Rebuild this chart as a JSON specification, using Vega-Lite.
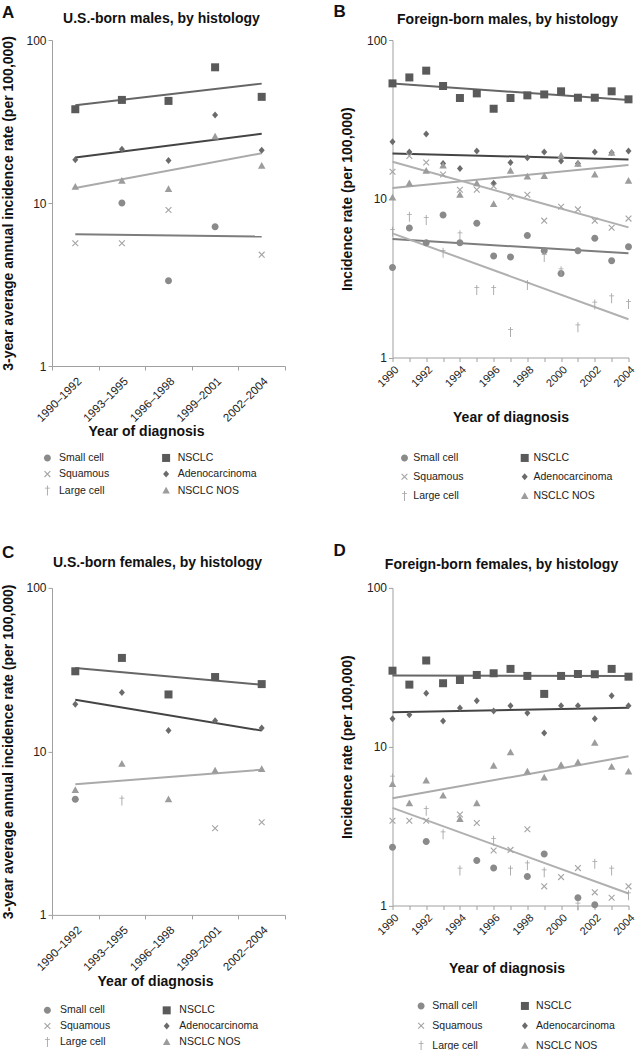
{
  "$schema": "https://vega.github.io/schema/vega-lite/v6.json",
  "padding": {"left": 1, "top": 3, "right": 1, "bottom": 0},
  "background": "white",
  "config": {
    "font": "Liberation Sans",
    "view": {"stroke": null},
    "title": {"font": "Liberation Sans", "fontSize": 14, "fontWeight": "bold", "color": "#111"},
    "axis": {"labelFont": "Liberation Sans", "titleFont": "Liberation Sans", "domainColor": "#a0a0a0", "tickColor": "#a0a0a0", "labelColor": "#222", "titleColor": "#111", "grid": false, "tickSize": 4, "titleFontSize": 14, "titleFontWeight": "bold"},
    "legend": {"labelFont": "Liberation Sans", "labelFontSize": 10.5, "labelColor": "#222", "title": null, "orient": "none", "columns": 2}
  },
  "datasets": {
    "points": [
      {"panel":"A","histology":"NSCLC","period":"1990–1992","rate":37.6},
      {"panel":"A","histology":"NSCLC","period":"1993–1995","rate":42.9},
      {"panel":"A","histology":"NSCLC","period":"1996–1998","rate":42.3},
      {"panel":"A","histology":"NSCLC","period":"1999–2001","rate":68},
      {"panel":"A","histology":"NSCLC","period":"2002–2004","rate":44.8},
      {"panel":"A","histology":"Adenocarcinoma","period":"1990–1992","rate":18.4},
      {"panel":"A","histology":"Adenocarcinoma","period":"1993–1995","rate":21.4},
      {"panel":"A","histology":"Adenocarcinoma","period":"1996–1998","rate":18.2},
      {"panel":"A","histology":"Adenocarcinoma","period":"1999–2001","rate":34.7},
      {"panel":"A","histology":"Adenocarcinoma","period":"2002–2004","rate":21.1},
      {"panel":"A","histology":"NSCLC NOS","period":"1990–1992","rate":12.6},
      {"panel":"A","histology":"NSCLC NOS","period":"1993–1995","rate":13.7},
      {"panel":"A","histology":"NSCLC NOS","period":"1996–1998","rate":12.2},
      {"panel":"A","histology":"NSCLC NOS","period":"1999–2001","rate":25.6},
      {"panel":"A","histology":"NSCLC NOS","period":"2002–2004","rate":16.9},
      {"panel":"A","histology":"Small cell","period":"1993–1995","rate":10.0},
      {"panel":"A","histology":"Small cell","period":"1996–1998","rate":3.34},
      {"panel":"A","histology":"Small cell","period":"1999–2001","rate":7.16},
      {"panel":"A","histology":"Squamous","period":"1990–1992","rate":5.66},
      {"panel":"A","histology":"Squamous","period":"1993–1995","rate":5.66},
      {"panel":"A","histology":"Squamous","period":"1996–1998","rate":9.06},
      {"panel":"A","histology":"Squamous","period":"2002–2004","rate":4.82},

      {"panel":"C","histology":"NSCLC","period":"1990–1992","rate":30.9},
      {"panel":"C","histology":"NSCLC","period":"1993–1995","rate":37.3},
      {"panel":"C","histology":"NSCLC","period":"1996–1998","rate":22.3},
      {"panel":"C","histology":"NSCLC","period":"1999–2001","rate":28.5},
      {"panel":"C","histology":"NSCLC","period":"2002–2004","rate":25.8},
      {"panel":"C","histology":"Adenocarcinoma","period":"1990–1992","rate":19.4},
      {"panel":"C","histology":"Adenocarcinoma","period":"1993–1995","rate":22.9},
      {"panel":"C","histology":"Adenocarcinoma","period":"1996–1998","rate":13.4},
      {"panel":"C","histology":"Adenocarcinoma","period":"1999–2001","rate":15.4},
      {"panel":"C","histology":"Adenocarcinoma","period":"2002–2004","rate":13.9},
      {"panel":"C","histology":"NSCLC NOS","period":"1990–1992","rate":5.8},
      {"panel":"C","histology":"NSCLC NOS","period":"1993–1995","rate":8.4},
      {"panel":"C","histology":"NSCLC NOS","period":"1996–1998","rate":5.1},
      {"panel":"C","histology":"NSCLC NOS","period":"1999–2001","rate":7.65},
      {"panel":"C","histology":"NSCLC NOS","period":"2002–2004","rate":7.8},
      {"panel":"C","histology":"Small cell","period":"1990–1992","rate":5.1},
      {"panel":"C","histology":"Large cell","period":"1993–1995","rate":5.0},
      {"panel":"C","histology":"Squamous","period":"1999–2001","rate":3.39},
      {"panel":"C","histology":"Squamous","period":"2002–2004","rate":3.69},

      {"panel":"B","histology":"NSCLC","year":1990,"rate":53.3},
      {"panel":"B","histology":"NSCLC","year":1991,"rate":58.1},
      {"panel":"B","histology":"NSCLC","year":1992,"rate":64.1},
      {"panel":"B","histology":"NSCLC","year":1993,"rate":51.3},
      {"panel":"B","histology":"NSCLC","year":1994,"rate":43.1},
      {"panel":"B","histology":"NSCLC","year":1995,"rate":46.1},
      {"panel":"B","histology":"NSCLC","year":1996,"rate":36.9},
      {"panel":"B","histology":"NSCLC","year":1997,"rate":43.1},
      {"panel":"B","histology":"NSCLC","year":1998,"rate":44.8},
      {"panel":"B","histology":"NSCLC","year":1999,"rate":45.4},
      {"panel":"B","histology":"NSCLC","year":2000,"rate":47.5},
      {"panel":"B","histology":"NSCLC","year":2001,"rate":43.3},
      {"panel":"B","histology":"NSCLC","year":2002,"rate":43.3},
      {"panel":"B","histology":"NSCLC","year":2003,"rate":47.5},
      {"panel":"B","histology":"NSCLC","year":2004,"rate":42.3},
      {"panel":"B","histology":"Adenocarcinoma","year":1990,"rate":22.9},
      {"panel":"B","histology":"Adenocarcinoma","year":1991,"rate":19.7},
      {"panel":"B","histology":"Adenocarcinoma","year":1992,"rate":25.6},
      {"panel":"B","histology":"Adenocarcinoma","year":1993,"rate":16.7},
      {"panel":"B","histology":"Adenocarcinoma","year":1994,"rate":15.5},
      {"panel":"B","histology":"Adenocarcinoma","year":1995,"rate":20.0},
      {"panel":"B","histology":"Adenocarcinoma","year":1996,"rate":12.5},
      {"panel":"B","histology":"Adenocarcinoma","year":1997,"rate":16.9},
      {"panel":"B","histology":"Adenocarcinoma","year":1998,"rate":18.1},
      {"panel":"B","histology":"Adenocarcinoma","year":1999,"rate":19.7},
      {"panel":"B","histology":"Adenocarcinoma","year":2000,"rate":17.3},
      {"panel":"B","histology":"Adenocarcinoma","year":2001,"rate":16.7},
      {"panel":"B","histology":"Adenocarcinoma","year":2002,"rate":19.7},
      {"panel":"B","histology":"Adenocarcinoma","year":2003,"rate":19.5},
      {"panel":"B","histology":"Adenocarcinoma","year":2004,"rate":20.0},
      {"panel":"B","histology":"NSCLC NOS","year":1990,"rate":10.2},
      {"panel":"B","histology":"NSCLC NOS","year":1991,"rate":12.5},
      {"panel":"B","histology":"NSCLC NOS","year":1992,"rate":15.0},
      {"panel":"B","histology":"NSCLC NOS","year":1993,"rate":16.2},
      {"panel":"B","histology":"NSCLC NOS","year":1994,"rate":10.6},
      {"panel":"B","histology":"NSCLC NOS","year":1995,"rate":12.5},
      {"panel":"B","histology":"NSCLC NOS","year":1996,"rate":9.27},
      {"panel":"B","histology":"NSCLC NOS","year":1997,"rate":15.0},
      {"panel":"B","histology":"NSCLC NOS","year":1998,"rate":13.8},
      {"panel":"B","histology":"NSCLC NOS","year":1999,"rate":13.9},
      {"panel":"B","histology":"NSCLC NOS","year":2000,"rate":18.7},
      {"panel":"B","histology":"NSCLC NOS","year":2001,"rate":16.6},
      {"panel":"B","histology":"NSCLC NOS","year":2002,"rate":14.2},
      {"panel":"B","histology":"NSCLC NOS","year":2003,"rate":19.5},
      {"panel":"B","histology":"NSCLC NOS","year":2004,"rate":13.0},
      {"panel":"B","histology":"Squamous","year":1990,"rate":14.8},
      {"panel":"B","histology":"Squamous","year":1991,"rate":18.6},
      {"panel":"B","histology":"Squamous","year":1992,"rate":16.9},
      {"panel":"B","histology":"Squamous","year":1993,"rate":14.2},
      {"panel":"B","histology":"Squamous","year":1994,"rate":11.4},
      {"panel":"B","histology":"Squamous","year":1995,"rate":11.4},
      {"panel":"B","histology":"Squamous","year":1996,"rate":12.0},
      {"panel":"B","histology":"Squamous","year":1997,"rate":10.3},
      {"panel":"B","histology":"Squamous","year":1998,"rate":10.6},
      {"panel":"B","histology":"Squamous","year":1999,"rate":7.28},
      {"panel":"B","histology":"Squamous","year":2000,"rate":8.9},
      {"panel":"B","histology":"Squamous","year":2001,"rate":8.57},
      {"panel":"B","histology":"Squamous","year":2002,"rate":7.28},
      {"panel":"B","histology":"Squamous","year":2003,"rate":6.57},
      {"panel":"B","histology":"Squamous","year":2004,"rate":7.5},
      {"panel":"B","histology":"Small cell","year":1990,"rate":3.69},
      {"panel":"B","histology":"Small cell","year":1991,"rate":6.54},
      {"panel":"B","histology":"Small cell","year":1992,"rate":5.28},
      {"panel":"B","histology":"Small cell","year":1993,"rate":7.9},
      {"panel":"B","histology":"Small cell","year":1994,"rate":5.28},
      {"panel":"B","histology":"Small cell","year":1995,"rate":7.0},
      {"panel":"B","histology":"Small cell","year":1996,"rate":4.36},
      {"panel":"B","histology":"Small cell","year":1997,"rate":4.3},
      {"panel":"B","histology":"Small cell","year":1998,"rate":5.86},
      {"panel":"B","histology":"Small cell","year":1999,"rate":4.7},
      {"panel":"B","histology":"Small cell","year":2000,"rate":3.38},
      {"panel":"B","histology":"Small cell","year":2001,"rate":4.7},
      {"panel":"B","histology":"Small cell","year":2002,"rate":5.64},
      {"panel":"B","histology":"Small cell","year":2003,"rate":4.07},
      {"panel":"B","histology":"Small cell","year":2004,"rate":4.99},
      {"panel":"B","histology":"Large cell","year":1990,"rate":6.2},
      {"panel":"B","histology":"Large cell","year":1991,"rate":7.7},
      {"panel":"B","histology":"Large cell","year":1992,"rate":7.35},
      {"panel":"B","histology":"Large cell","year":1993,"rate":4.57},
      {"panel":"B","histology":"Large cell","year":1994,"rate":5.9},
      {"panel":"B","histology":"Large cell","year":1995,"rate":2.66},
      {"panel":"B","histology":"Large cell","year":1996,"rate":2.66},
      {"panel":"B","histology":"Large cell","year":1997,"rate":1.45},
      {"panel":"B","histology":"Large cell","year":1998,"rate":2.86},
      {"panel":"B","histology":"Large cell","year":1999,"rate":4.3},
      {"panel":"B","histology":"Large cell","year":2000,"rate":3.5},
      {"panel":"B","histology":"Large cell","year":2001,"rate":1.55},
      {"panel":"B","histology":"Large cell","year":2002,"rate":2.16},
      {"panel":"B","histology":"Large cell","year":2003,"rate":2.36},
      {"panel":"B","histology":"Large cell","year":2004,"rate":2.17},

      {"panel":"D","histology":"NSCLC","year":1990,"rate":30.1},
      {"panel":"D","histology":"NSCLC","year":1991,"rate":24.6},
      {"panel":"D","histology":"NSCLC","year":1992,"rate":34.9},
      {"panel":"D","histology":"NSCLC","year":1993,"rate":25.1},
      {"panel":"D","histology":"NSCLC","year":1994,"rate":26.3},
      {"panel":"D","histology":"NSCLC","year":1995,"rate":28.3},
      {"panel":"D","histology":"NSCLC","year":1996,"rate":29.0},
      {"panel":"D","histology":"NSCLC","year":1997,"rate":30.9},
      {"panel":"D","histology":"NSCLC","year":1998,"rate":27.9},
      {"panel":"D","histology":"NSCLC","year":1999,"rate":21.5},
      {"panel":"D","histology":"NSCLC","year":2000,"rate":27.9},
      {"panel":"D","histology":"NSCLC","year":2001,"rate":28.7},
      {"panel":"D","histology":"NSCLC","year":2002,"rate":28.6},
      {"panel":"D","histology":"NSCLC","year":2003,"rate":30.9},
      {"panel":"D","histology":"NSCLC","year":2004,"rate":27.6},
      {"panel":"D","histology":"Adenocarcinoma","year":1990,"rate":15.0},
      {"panel":"D","histology":"Adenocarcinoma","year":1991,"rate":15.9},
      {"panel":"D","histology":"Adenocarcinoma","year":1992,"rate":21.7},
      {"panel":"D","histology":"Adenocarcinoma","year":1993,"rate":14.5},
      {"panel":"D","histology":"Adenocarcinoma","year":1994,"rate":17.5},
      {"panel":"D","histology":"Adenocarcinoma","year":1995,"rate":19.5},
      {"panel":"D","histology":"Adenocarcinoma","year":1996,"rate":16.8},
      {"panel":"D","histology":"Adenocarcinoma","year":1997,"rate":18.1},
      {"panel":"D","histology":"Adenocarcinoma","year":1998,"rate":16.3},
      {"panel":"D","histology":"Adenocarcinoma","year":1999,"rate":12.2},
      {"panel":"D","histology":"Adenocarcinoma","year":2000,"rate":18.1},
      {"panel":"D","histology":"Adenocarcinoma","year":2001,"rate":18.1},
      {"panel":"D","histology":"Adenocarcinoma","year":2002,"rate":15.0},
      {"panel":"D","histology":"Adenocarcinoma","year":2003,"rate":20.9},
      {"panel":"D","histology":"Adenocarcinoma","year":2004,"rate":18.1},
      {"panel":"D","histology":"NSCLC NOS","year":1990,"rate":5.83},
      {"panel":"D","histology":"NSCLC NOS","year":1991,"rate":4.41},
      {"panel":"D","histology":"NSCLC NOS","year":1992,"rate":6.12},
      {"panel":"D","histology":"NSCLC NOS","year":1993,"rate":4.92},
      {"panel":"D","histology":"NSCLC NOS","year":1994,"rate":3.51},
      {"panel":"D","histology":"NSCLC NOS","year":1995,"rate":4.41},
      {"panel":"D","histology":"NSCLC NOS","year":1996,"rate":7.6},
      {"panel":"D","histology":"NSCLC NOS","year":1997,"rate":9.23},
      {"panel":"D","histology":"NSCLC NOS","year":1998,"rate":6.97},
      {"panel":"D","histology":"NSCLC NOS","year":1999,"rate":6.39},
      {"panel":"D","histology":"NSCLC NOS","year":2000,"rate":7.68},
      {"panel":"D","histology":"NSCLC NOS","year":2001,"rate":7.98},
      {"panel":"D","histology":"NSCLC NOS","year":2002,"rate":10.6},
      {"panel":"D","histology":"NSCLC NOS","year":2003,"rate":7.49},
      {"panel":"D","histology":"NSCLC NOS","year":2004,"rate":6.97},
      {"panel":"D","histology":"Squamous","year":1990,"rate":3.42},
      {"panel":"D","histology":"Squamous","year":1991,"rate":3.42},
      {"panel":"D","histology":"Squamous","year":1992,"rate":3.42},
      {"panel":"D","histology":"Squamous","year":1994,"rate":3.74},
      {"panel":"D","histology":"Squamous","year":1995,"rate":3.31},
      {"panel":"D","histology":"Squamous","year":1996,"rate":2.22},
      {"panel":"D","histology":"Squamous","year":1997,"rate":2.24},
      {"panel":"D","histology":"Squamous","year":1998,"rate":3.02},
      {"panel":"D","histology":"Squamous","year":1999,"rate":1.32},
      {"panel":"D","histology":"Squamous","year":2000,"rate":1.51},
      {"panel":"D","histology":"Squamous","year":2001,"rate":1.72},
      {"panel":"D","histology":"Squamous","year":2002,"rate":1.21},
      {"panel":"D","histology":"Squamous","year":2003,"rate":1.12},
      {"panel":"D","histology":"Squamous","year":2004,"rate":1.32},
      {"panel":"D","histology":"Small cell","year":1990,"rate":2.33},
      {"panel":"D","histology":"Small cell","year":1992,"rate":2.53},
      {"panel":"D","histology":"Small cell","year":1995,"rate":1.92},
      {"panel":"D","histology":"Small cell","year":1996,"rate":1.72},
      {"panel":"D","histology":"Small cell","year":1998,"rate":1.52},
      {"panel":"D","histology":"Small cell","year":1999,"rate":2.11},
      {"panel":"D","histology":"Small cell","year":2001,"rate":1.12},
      {"panel":"D","histology":"Small cell","year":2002,"rate":1.01},
      {"panel":"D","histology":"Large cell","year":1990,"rate":6.3},
      {"panel":"D","histology":"Large cell","year":1992,"rate":3.95},
      {"panel":"D","histology":"Large cell","year":1993,"rate":2.81},
      {"panel":"D","histology":"Large cell","year":1994,"rate":1.66},
      {"panel":"D","histology":"Large cell","year":1996,"rate":2.56},
      {"panel":"D","histology":"Large cell","year":1997,"rate":1.66},
      {"panel":"D","histology":"Large cell","year":1998,"rate":1.79},
      {"panel":"D","histology":"Large cell","year":1999,"rate":1.62},
      {"panel":"D","histology":"Large cell","year":2001,"rate":1.0},
      {"panel":"D","histology":"Large cell","year":2002,"rate":1.83},
      {"panel":"D","histology":"Large cell","year":2003,"rate":1.66},
      {"panel":"D","histology":"Large cell","year":2004,"rate":1.16}
    ],
    "trends": [
      {"panel":"A","histology":"NSCLC","period":"1990–1992","rate":39.8},
      {"panel":"A","histology":"NSCLC","period":"2002–2004","rate":54.0},
      {"panel":"A","histology":"Adenocarcinoma","period":"1990–1992","rate":19.0},
      {"panel":"A","histology":"Adenocarcinoma","period":"2002–2004","rate":26.6},
      {"panel":"A","histology":"NSCLC NOS","period":"1990–1992","rate":12.35},
      {"panel":"A","histology":"NSCLC NOS","period":"2002–2004","rate":20.2},
      {"panel":"A","histology":"Small cell","period":"1990–1992","rate":6.43},
      {"panel":"A","histology":"Small cell","period":"2002–2004","rate":6.22},
      {"panel":"C","histology":"NSCLC","period":"1990–1992","rate":32.4},
      {"panel":"C","histology":"NSCLC","period":"2002–2004","rate":25.6},
      {"panel":"C","histology":"Adenocarcinoma","period":"1990–1992","rate":20.7},
      {"panel":"C","histology":"Adenocarcinoma","period":"2002–2004","rate":13.4},
      {"panel":"C","histology":"NSCLC NOS","period":"1990–1992","rate":6.3},
      {"panel":"C","histology":"NSCLC NOS","period":"2002–2004","rate":7.72},
      {"panel":"B","histology":"NSCLC","year":1990,"rate":53.3},
      {"panel":"B","histology":"NSCLC","year":2004,"rate":41.9},
      {"panel":"B","histology":"Adenocarcinoma","year":1990,"rate":19.3},
      {"panel":"B","histology":"Adenocarcinoma","year":2004,"rate":17.7},
      {"panel":"B","histology":"NSCLC NOS","year":1990,"rate":11.7},
      {"panel":"B","histology":"NSCLC NOS","year":2004,"rate":16.3},
      {"panel":"B","histology":"Squamous","year":1990,"rate":17.1},
      {"panel":"B","histology":"Squamous","year":2004,"rate":6.6},
      {"panel":"B","histology":"Small cell","year":1990,"rate":5.58},
      {"panel":"B","histology":"Small cell","year":2004,"rate":4.53},
      {"panel":"B","histology":"Large cell","year":1990,"rate":6.05},
      {"panel":"B","histology":"Large cell","year":2004,"rate":1.74},
      {"panel":"D","histology":"NSCLC","year":1990,"rate":28.1},
      {"panel":"D","histology":"NSCLC","year":2004,"rate":27.9},
      {"panel":"D","histology":"Adenocarcinoma","year":1990,"rate":16.5},
      {"panel":"D","histology":"Adenocarcinoma","year":2004,"rate":17.6},
      {"panel":"D","histology":"NSCLC NOS","year":1990,"rate":4.74},
      {"panel":"D","histology":"NSCLC NOS","year":2004,"rate":8.7},
      {"panel":"D","histology":"Squamous","year":1990,"rate":4.12},
      {"panel":"D","histology":"Squamous","year":2004,"rate":1.19}
    ]
  },
  "columns": 2,
  "spacing": {"row": 39.9, "column": 46.5},
  "resolve": {"scale": {"color": "independent", "shape": "independent", "stroke": "independent"}, "legend": {"color": "independent", "shape": "independent"}},
  "concat": [
    {
      "title": {"text": "A", "anchor": "start", "frame": "bounds", "fontSize": 17, "offset": -9.6},
      "vconcat": [
        {
          "width": 233, "height": 326,
          "title": {"text": "U.S.-born males, by histology", "offset": 7.8, "dx": -7},
          "encoding": {
            "x": {"field": "period", "type": "ordinal", "scale": {"type": "band", "domain": ["1990–1992","1993–1995","1996–1998","1999–2001","2002–2004"], "paddingInner": 0, "paddingOuter": 0}, "axis": {"title": "Year of diagnosis", "labelAngle": -45, "tickBand": "extent", "labelFontSize": 11.5, "labelPadding": 5, "titlePadding": 0.5, "titleX": 94}},
            "y": {"field": "rate", "type": "quantitative", "scale": {"type": "log", "domain": [1, 100], "nice": false}, "axis": {"values": [1, 10, 100], "format": "d", "labelFontSize": 12, "title": "3-year average annual incidence rate (per 100,000)", "titlePadding": 10}}
          },
          "layer": [
            {
              "data": {"name": "trends"},
              "transform": [{"filter": "datum.panel === 'A'"}],
              "mark": {"type": "line", "strokeWidth": 2},
              "encoding": {
                "stroke": {"field": "histology", "type": "nominal", "scale": {"domain": ["NSCLC","Adenocarcinoma","NSCLC NOS","Squamous","Small cell","Large cell"], "range": ["#666666","#444444","#aaaaaa","#b0b0b0","#7d7d7d","#b0b0b0"]}, "legend": null}
              }
            },
            {
              "data": {"name": "points"},
              "transform": [{"filter": "datum.panel === 'A'"}],
              "mark": {"type": "point", "filled": true, "size": 100, "opacity": 1},
              "encoding": {
                "color": {"field": "histology", "type": "nominal", "scale": {"domain": ["Small cell","Squamous","Large cell","NSCLC","Adenocarcinoma","NSCLC NOS"], "range": ["#8a8a8a","#a5a5a5","#a5a5a5","#5a5a5a","#6b6b6b","#9c9c9c"]}, "legend": {"legendX": -10.6, "legendY": 411.7, "rowPadding": 4.4, "columnPadding": 50.7, "labelOffset": 5.6}},
                "shape": {"field": "histology", "type": "nominal", "scale": {"domain": ["Small cell","Squamous","Large cell","NSCLC","Adenocarcinoma","NSCLC NOS"], "range": ["M0.7,0A0.7,0.7 0 1,1 -0.7,0A0.7,0.7 0 1,1 0.7,0Z", "M-0.5,-0.66L0.66,0.5L0.5,0.66L-0.66,-0.5ZM0.66,-0.5L-0.5,0.66L-0.66,0.5L0.5,-0.66Z", "M-0.09,-1L0.09,-1L0.09,-0.55L0.5,-0.55L0.5,-0.4L0.09,-0.4L0.09,1L-0.09,1L-0.09,-0.4L-0.5,-0.4L-0.5,-0.55L-0.09,-0.55Z", "M-0.8,-0.8L0.8,-0.8L0.8,0.8L-0.8,0.8Z", "M0,-0.7L0.6,0L0,0.7L-0.6,0Z", "M0,-0.75L0.75,0.6L-0.75,0.6Z"]}, "legend": {"legendX": -10.6, "legendY": 411.7, "rowPadding": 4.4, "columnPadding": 50.7, "labelOffset": 5.6}}
              }
            }
          ]
        }
      ]
    },
    {
      "title": {"text": "B", "anchor": "start", "frame": "bounds", "fontSize": 17, "offset": -8, "dx": -7},
      "vconcat": [
        {
          "width": 236, "height": 317.5,
          "title": {"text": "Foreign-born males, by histology", "offset": 6.9, "dx": -3},
          "encoding": {
            "x": {"field": "year", "type": "quantitative", "scale": {"domain": [1990, 2004], "nice": false, "zero": false}, "axis": {"title": "Year of diagnosis", "values": [1990,1991,1992,1993,1994,1995,1996,1997,1998,1999,2000,2001,2002,2003,2004], "labelExpr": "datum.value % 2 == 0 ? datum.label : ''", "format": "d", "labelAngle": -45, "labelFlush": false, "labelOverlap": false, "labelSeparation": -40, "labelFontSize": 11, "titlePadding": 21.5}},
            "y": {"field": "rate", "type": "quantitative", "scale": {"type": "log", "domain": [1, 100], "nice": false}, "axis": {"values": [1, 10, 100], "format": "d", "labelFontSize": 12, "title": "Incidence rate (per 100,000)", "titlePadding": 12}}
          },
          "layer": [
            {
              "data": {"name": "trends"},
              "transform": [{"filter": "datum.panel === 'B'"}],
              "mark": {"type": "line", "strokeWidth": 2},
              "encoding": {
                "stroke": {"field": "histology", "type": "nominal", "scale": {"domain": ["NSCLC","Adenocarcinoma","NSCLC NOS","Squamous","Small cell","Large cell"], "range": ["#666666","#444444","#aaaaaa","#b0b0b0","#7d7d7d","#b0b0b0"]}, "legend": null}
              }
            },
            {
              "data": {"name": "points"},
              "transform": [{"filter": "datum.panel === 'B'"}],
              "mark": {"type": "point", "filled": true, "size": 100, "opacity": 1},
              "encoding": {
                "color": {"field": "histology", "type": "nominal", "scale": {"domain": ["Small cell","Squamous","Large cell","NSCLC","Adenocarcinoma","NSCLC NOS"], "range": ["#8a8a8a","#a5a5a5","#a5a5a5","#5a5a5a","#6b6b6b","#9c9c9c"]}, "legend": {"legendX": 6, "legendY": 411.7, "rowPadding": 7.1, "columnPadding": 55.2, "labelOffset": 2.8}},
                "shape": {"field": "histology", "type": "nominal", "scale": {"domain": ["Small cell","Squamous","Large cell","NSCLC","Adenocarcinoma","NSCLC NOS"], "range": ["M0.7,0A0.7,0.7 0 1,1 -0.7,0A0.7,0.7 0 1,1 0.7,0Z", "M-0.5,-0.66L0.66,0.5L0.5,0.66L-0.66,-0.5ZM0.66,-0.5L-0.5,0.66L-0.66,0.5L0.5,-0.66Z", "M-0.09,-1L0.09,-1L0.09,-0.55L0.5,-0.55L0.5,-0.4L0.09,-0.4L0.09,1L-0.09,1L-0.09,-0.4L-0.5,-0.4L-0.5,-0.55L-0.09,-0.55Z", "M-0.8,-0.8L0.8,-0.8L0.8,0.8L-0.8,0.8Z", "M0,-0.7L0.6,0L0,0.7L-0.6,0Z", "M0,-0.75L0.75,0.6L-0.75,0.6Z"]}, "legend": {"legendX": 6, "legendY": 411.7, "rowPadding": 7.1, "columnPadding": 55.2, "labelOffset": 2.8}}
              }
            }
          ]
        }
      ]
    },
    {
      "title": {"text": "C", "anchor": "start", "frame": "bounds", "fontSize": 17, "offset": -6.2},
      "vconcat": [
        {
          "width": 233, "height": 327,
          "title": {"text": "U.S.-born females, by histology", "offset": 12.1, "dx": -11},
          "encoding": {
            "x": {"field": "period", "type": "ordinal", "scale": {"type": "band", "domain": ["1990–1992","1993–1995","1996–1998","1999–2001","2002–2004"], "paddingInner": 0, "paddingOuter": 0}, "axis": {"title": "Year of diagnosis", "labelAngle": -45, "tickBand": "extent", "labelFontSize": 11.5, "labelPadding": 5, "titlePadding": 1.7, "titleX": 103}},
            "y": {"field": "rate", "type": "quantitative", "scale": {"type": "log", "domain": [1, 100], "nice": false}, "axis": {"values": [1, 10, 100], "format": "d", "labelFontSize": 12, "title": "3-year average annual incidence rate (per 100,000)", "titlePadding": 10}}
          },
          "layer": [
            {
              "data": {"name": "trends"},
              "transform": [{"filter": "datum.panel === 'C'"}],
              "mark": {"type": "line", "strokeWidth": 2},
              "encoding": {
                "stroke": {"field": "histology", "type": "nominal", "scale": {"domain": ["NSCLC","Adenocarcinoma","NSCLC NOS","Squamous","Small cell","Large cell"], "range": ["#666666","#444444","#aaaaaa","#b0b0b0","#7d7d7d","#b0b0b0"]}, "legend": null}
              }
            },
            {
              "data": {"name": "points"},
              "transform": [{"filter": "datum.panel === 'C'"}],
              "mark": {"type": "point", "filled": true, "size": 100, "opacity": 1},
              "encoding": {
                "color": {"field": "histology", "type": "nominal", "scale": {"domain": ["Small cell","Squamous","Large cell","NSCLC","Adenocarcinoma","NSCLC NOS"], "range": ["#8a8a8a","#a5a5a5","#a5a5a5","#5a5a5a","#6b6b6b","#9c9c9c"]}, "legend": {"legendX": -10.6, "legendY": 416.2, "rowPadding": 3.9, "columnPadding": 50.3, "labelOffset": 6.6}},
                "shape": {"field": "histology", "type": "nominal", "scale": {"domain": ["Small cell","Squamous","Large cell","NSCLC","Adenocarcinoma","NSCLC NOS"], "range": ["M0.7,0A0.7,0.7 0 1,1 -0.7,0A0.7,0.7 0 1,1 0.7,0Z", "M-0.5,-0.66L0.66,0.5L0.5,0.66L-0.66,-0.5ZM0.66,-0.5L-0.5,0.66L-0.66,0.5L0.5,-0.66Z", "M-0.09,-1L0.09,-1L0.09,-0.55L0.5,-0.55L0.5,-0.4L0.09,-0.4L0.09,1L-0.09,1L-0.09,-0.4L-0.5,-0.4L-0.5,-0.55L-0.09,-0.55Z", "M-0.8,-0.8L0.8,-0.8L0.8,0.8L-0.8,0.8Z", "M0,-0.7L0.6,0L0,0.7L-0.6,0Z", "M0,-0.75L0.75,0.6L-0.75,0.6Z"]}, "legend": {"legendX": -10.6, "legendY": 416.2, "rowPadding": 3.9, "columnPadding": 50.3, "labelOffset": 6.6}}
              }
            }
          ]
        }
      ]
    },
    {
      "title": {"text": "D", "anchor": "start", "frame": "bounds", "fontSize": 17, "offset": -2.6, "dx": -7},
      "vconcat": [
        {
          "width": 236, "height": 317.6,
          "title": {"text": "Foreign-born females, by histology", "offset": 10.3, "dx": -9},
          "encoding": {
            "x": {"field": "year", "type": "quantitative", "scale": {"domain": [1990, 2004], "nice": false, "zero": false}, "axis": {"title": "Year of diagnosis", "values": [1990,1991,1992,1993,1994,1995,1996,1997,1998,1999,2000,2001,2002,2003,2004], "labelExpr": "datum.value % 2 == 0 ? datum.label : ''", "format": "d", "labelAngle": -45, "labelFlush": false, "labelOverlap": false, "labelSeparation": -40, "labelFontSize": 11, "titlePadding": 25.3, "titleX": 114}},
            "y": {"field": "rate", "type": "quantitative", "scale": {"type": "log", "domain": [1, 100], "nice": false}, "axis": {"values": [1, 10, 100], "format": "d", "labelFontSize": 12, "title": "Incidence rate (per 100,000)", "titlePadding": 12}}
          },
          "layer": [
            {
              "data": {"name": "trends"},
              "transform": [{"filter": "datum.panel === 'D'"}],
              "mark": {"type": "line", "strokeWidth": 2},
              "encoding": {
                "stroke": {"field": "histology", "type": "nominal", "scale": {"domain": ["NSCLC","Adenocarcinoma","NSCLC NOS","Squamous","Small cell","Large cell"], "range": ["#666666","#444444","#aaaaaa","#b0b0b0","#7d7d7d","#b0b0b0"]}, "legend": null}
              }
            },
            {
              "data": {"name": "points"},
              "transform": [{"filter": "datum.panel === 'D'"}],
              "mark": {"type": "point", "filled": true, "size": 100, "opacity": 1},
              "encoding": {
                "color": {"field": "histology", "type": "nominal", "scale": {"domain": ["Small cell","Squamous","Large cell","NSCLC","Adenocarcinoma","NSCLC NOS"], "range": ["#8a8a8a","#a5a5a5","#a5a5a5","#5a5a5a","#6b6b6b","#9c9c9c"]}, "legend": {"legendX": 22.6, "legendY": 411.8, "rowPadding": 8, "columnPadding": 35.8, "labelOffset": 5.2}},
                "shape": {"field": "histology", "type": "nominal", "scale": {"domain": ["Small cell","Squamous","Large cell","NSCLC","Adenocarcinoma","NSCLC NOS"], "range": ["M0.7,0A0.7,0.7 0 1,1 -0.7,0A0.7,0.7 0 1,1 0.7,0Z", "M-0.5,-0.66L0.66,0.5L0.5,0.66L-0.66,-0.5ZM0.66,-0.5L-0.5,0.66L-0.66,0.5L0.5,-0.66Z", "M-0.09,-1L0.09,-1L0.09,-0.55L0.5,-0.55L0.5,-0.4L0.09,-0.4L0.09,1L-0.09,1L-0.09,-0.4L-0.5,-0.4L-0.5,-0.55L-0.09,-0.55Z", "M-0.8,-0.8L0.8,-0.8L0.8,0.8L-0.8,0.8Z", "M0,-0.7L0.6,0L0,0.7L-0.6,0Z", "M0,-0.75L0.75,0.6L-0.75,0.6Z"]}, "legend": {"legendX": 22.6, "legendY": 411.8, "rowPadding": 8, "columnPadding": 35.8, "labelOffset": 5.2}}
              }
            }
          ]
        }
      ]
    }
  ]
}
